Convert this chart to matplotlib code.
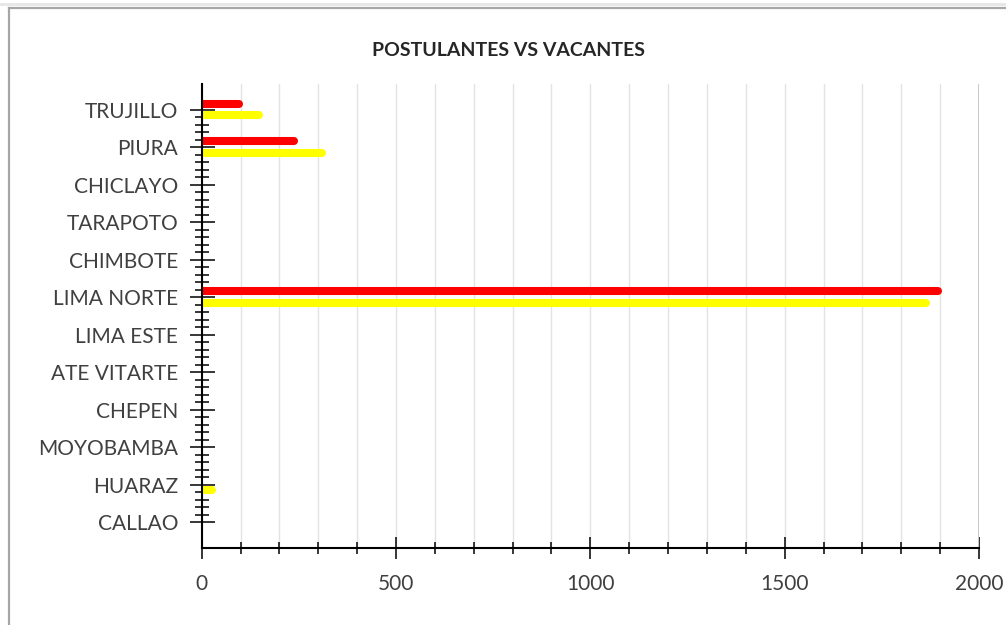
import matplotlib
matplotlib.use("Agg")
import matplotlib.pyplot as plt
from matplotlib.lines import Line2D
from matplotlib.ticker import MultipleLocator, FixedLocator
import numpy as np

# Chart data
sedes = ["TRUJILLO", "PIURA", "CHICLAYO", "TARAPOTO", "CHIMBOTE", "LIMA NORTE",
         "LIMA ESTE", "ATE VITARTE", "CHEPEN", "MOYOBAMBA", "HUARAZ", "CALLAO"]
serie_roja = [97, 237, 0, 0, 0, 1894, 0, 0, 0, 0, 0, 0]
serie_amarilla = [148, 309, 0, 0, 0, 1864, 0, 0, 0, 0, 26, 0]
titulo = "POSTULANTES VS VACANTES"

plt.rcParams["font.family"] = ["Lato", "DejaVu Sans"]

fig = plt.figure(figsize=(10.06, 6.25), dpi=100)
ax = fig.add_axes([201.7 / 1006, 1 - 548 / 625, (979 - 201.7) / 1006, (548 - 84) / 625])

pos = np.arange(len(sedes))
bar_lw = 5.8  # points, ~8 px thick bars
for offset, vals, color in [(-0.17, serie_roja, "#ff0000"), (0.14, serie_amarilla, "#ffff00")]:
    for y, v in zip(pos + offset, vals):
        if v > 0:
            ax.plot([0, v], [y, y], color=color, lw=bar_lw, solid_capstyle="round", zorder=3)

ax.set_xlim(0, 2000)
ax.set_ylim(len(sedes) - 1 + 0.693, -0.693)

# x axis ticks: major every 500, minor every 100
ax.xaxis.set_major_locator(MultipleLocator(500))
ax.xaxis.set_minor_locator(MultipleLocator(100))
ax.tick_params(axis="x", which="major", direction="inout", length=16.5, width=1.1,
               colors="black", labelcolor="#404040", labelsize=15, pad=10.5)
ax.tick_params(axis="x", which="minor", direction="inout", length=8.6, width=1.1, colors="black")

# y axis ticks: major at categories, 4 minor between
ax.set_yticks(pos)
ax.set_yticklabels(sedes)
minor_y = [p + k * 0.2 for p in pos[:-1] for k in range(1, 5)]
ax.yaxis.set_minor_locator(FixedLocator(minor_y))
ax.tick_params(axis="y", which="major", direction="inout", length=18, width=1.1,
               colors="black", labelcolor="#404040", labelsize=15, pad=8)
ax.tick_params(axis="y", which="minor", direction="inout", length=10, width=1.1, colors="black")

# vertical gridlines every 100
ax.grid(True, axis="x", which="both", color="#e3e3e3", lw=1.0, zorder=0)
ax.set_axisbelow(True)

for side in ["top", "right"]:
    ax.spines[side].set_visible(False)
ax.spines["left"].set_linewidth(1.5)
ax.spines["bottom"].set_linewidth(1.5)
ax.spines["left"].set_zorder(4)

# right plot edge line (the 2000 gridline is a bit darker)
ax.axvline(2000, color="#c8c8c8", lw=1.4, zorder=1)

fig.text(509 / 1006, 1 - 51 / 625, titulo, ha="center", va="center",
         fontsize=14, fontweight="bold", color="#262626")

# chart area border (cropped Excel chart frame)
fig.add_artist(Line2D([8.5 / 1006, 8.5 / 1006], [0, 1 - 8 / 625], color="#a6a6a6", lw=1.6))
fig.add_artist(Line2D([8.5 / 1006, 1], [1 - 8 / 625, 1 - 8 / 625], color="#a6a6a6", lw=1.6))
fig.add_artist(Line2D([0, 1], [1 - 4 / 625, 1 - 4 / 625], color="#e6e6e6", lw=2))

fig.savefig("out.png", dpi=100)
